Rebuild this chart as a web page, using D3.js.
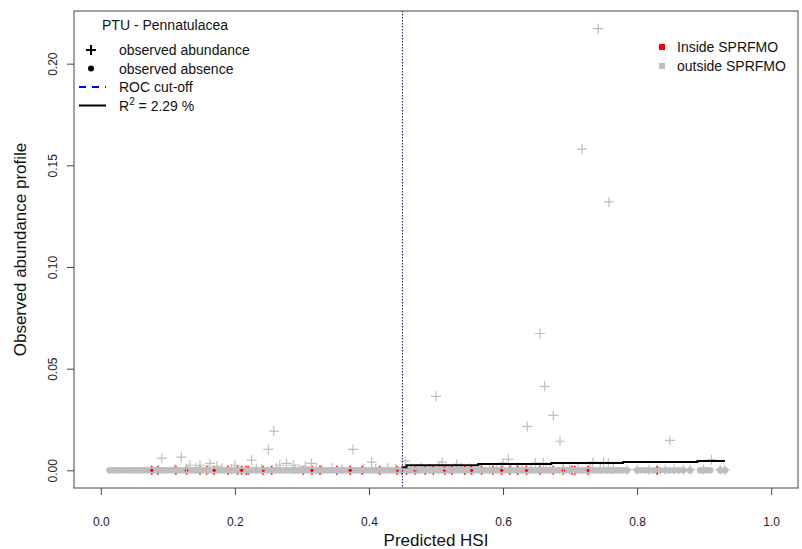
<!DOCTYPE html>
<html><head><meta charset="utf-8">
<script src="https://cdn.jsdelivr.net/npm/d3@7"></script>
<style>body{margin:0;background:#fff;}svg{display:block;font-family:"Liberation Sans",Arial,sans-serif;}</style>
</head><body>
<svg id="c" width="802" height="549"></svg>
<script>
// ---- data ----
const xTicks = [0.0, 0.2, 0.4, 0.6, 0.8, 1.0];
const xTickLabels = ["0.0", "0.2", "0.4", "0.6", "0.8", "1.0"];
const yTicks = [0.00, 0.05, 0.10, 0.15, 0.20];
const yTickLabels = ["0.00", "0.05", "0.10", "0.15", "0.20"];
const rocCutoff = 0.45;
// observed absences (outside SPRFMO), predicted HSI
const absenceX = [0.013,0.018,0.022,0.027,0.031,0.036,0.041,0.045,0.05,0.054,0.059,0.063,0.068,0.073,0.077,0.082,0.086,0.09,0.095,0.099,0.104,0.108,0.113,0.117,0.122,0.126,0.131,0.135,0.14,0.144,0.149,0.153,0.158,0.162,0.167,0.171,0.176,0.18,0.185,0.189,0.194,0.198,0.203,0.207,0.212,0.216,0.221,0.225,0.23,0.234,0.239,0.243,0.248,0.252,0.257,0.261,0.266,0.27,0.275,0.279,0.284,0.288,0.293,0.297,0.302,0.306,0.311,0.315,0.32,0.324,0.329,0.333,0.338,0.342,0.347,0.351,0.356,0.36,0.365,0.369,0.374,0.378,0.383,0.387,0.392,0.396,0.401,0.405,0.41,0.414,0.419,0.423,0.428,0.432,0.437,0.441,0.446,0.45,0.455,0.459,0.464,0.468,0.473,0.477,0.482,0.486,0.491,0.495,0.5,0.504,0.509,0.513,0.518,0.522,0.527,0.531,0.536,0.54,0.545,0.549,0.554,0.558,0.563,0.567,0.572,0.576,0.581,0.585,0.59,0.594,0.599,0.603,0.608,0.612,0.617,0.621,0.626,0.63,0.635,0.639,0.644,0.648,0.653,0.657,0.662,0.666,0.671,0.675,0.68,0.684,0.689,0.693,0.698,0.702,0.707,0.711,0.716,0.72,0.725,0.729,0.734,0.738,0.743,0.747,0.752,0.756,0.761,0.765,0.77,0.774,0.779,0.785,0.8,0.806,0.812,0.818,0.825,0.834,0.842,0.848,0.855,0.862,0.869,0.879,0.894,0.899,0.904,0.909,0.924,0.931];
// observed abundances (outside SPRFMO)
const abundX = [0.742,0.718,0.758,0.655,0.662,0.5,0.675,0.636,0.685,0.849,0.258,0.25,0.376,0.091,0.12,0.225,0.404,0.163,0.454,0.509,0.531,0.608,0.6,0.648,0.66,0.734,0.911,0.75,0.757,0.133,0.148,0.173,0.2,0.277,0.287,0.314,0.267,0.305,
  0.11,0.16,0.24,0.29,0.33,0.36,0.44,0.47,0.52,0.58,0.62,0.67,0.7,0.785,0.8,0.818,0.869,0.879,0.924,0.931,
  0.128,0.142,0.181,0.195,0.232,0.262,0.296,0.322,0.345,0.392,0.41,0.428,0.462,0.478,0.49,0.505,0.515,0.538,0.55,0.566,0.59,0.612,0.628,0.642,0.664,0.69,0.712,0.73,0.745,0.765,0.842,0.855,0.899];
const abundY = [0.2172,0.158,0.132,0.0673,0.0413,0.0364,0.027,0.0216,0.0143,0.0147,0.0193,0.0103,0.0103,0.006,0.0065,0.005,0.004,0.0034,0.0045,0.004,0.003,0.0054,0.0036,0.0036,0.0036,0.004,0.0052,0.0039,0.0034,0.0025,0.0025,0.002,0.0025,0.0034,0.0025,0.0034,0.0025,0.002,
  0.0006,0.0004,0.0006,0.0005,0.0004,0.0005,0.0006,0.0004,0.0005,0.0004,0.0006,0.0005,0.0004,0.0003,0.0003,0.0003,0.0003,0.0003,0.0003,0.0003,
  0.0008,0.0012,0.001,0.0006,0.0009,0.0011,0.0007,0.0009,0.0012,0.0008,0.0006,0.001,0.0009,0.0012,0.0007,0.0011,0.0009,0.0013,0.001,0.0008,0.0012,0.0009,0.0011,0.0007,0.001,0.0008,0.0006,0.0009,0.0007,0.0005,0.0004,0.0005,0.0004];
// stations inside SPRFMO
const insideX = [0.076,0.085,0.112,0.128,0.148,0.158,0.169,0.19,0.204,0.21,0.217,0.22,0.242,0.255,0.302,0.315,0.327,0.352,0.372,0.39,0.416,0.442,0.449,0.456,0.469,0.484,0.496,0.513,0.524,0.543,0.553,0.568,0.585,0.598,0.61,0.622,0.635,0.655,0.675,0.69,0.703,0.707,0.727,0.83];
const insideY = [0,0,0,0,0,0,0,0,0,0,0,0,0,0,0,0,0,0,0,0,0,0,0,0,0,0,0,0,0,0,0,0,0,0,0,0,0,0,0,0,0,0,0,0];
// fitted step line
const stepX = [0.45,0.456,0.563,0.672,0.779,0.89,0.931];
const stepY = [0.0015,0.0025,0.0031,0.0036,0.0041,0.0046,0.0046];

// ---- layout ----
const svg = d3.select("#c");
const L = 74, R = 798, T = 11, B = 488;
const x = d3.scaleLinear().domain([-0.04, 1.04]).range([L, R]);
const y = d3.scaleLinear().domain([-0.00869, 0.22589]).range([B, T]);
const axisCol = "#444";

// x axis
const xa = svg.append("g").attr("transform", `translate(0,${B})`)
  .call(d3.axisBottom(x).tickValues(xTicks).tickFormat((d,i)=>xTickLabels[i]).tickSize(7).tickPadding(0));
xa.select(".domain").remove();
xa.selectAll("line").attr("stroke", axisCol);
xa.selectAll("text").attr("font-size", 12).attr("fill", "#222").attr("dy", null).attr("y", 38);
// y axis
const ya = svg.append("g").attr("transform", `translate(${L},0)`)
  .call(d3.axisLeft(y).tickValues(yTicks).tickFormat((d,i)=>yTickLabels[i]).tickSize(7));
ya.select(".domain").remove();
ya.selectAll("line").attr("stroke", axisCol);
ya.selectAll("text").attr("font-size", 12).attr("fill", "#222")
  .attr("x", null).attr("dy", null).attr("text-anchor", "middle")
  .attr("transform", "translate(-17,0) rotate(-90)");

// box
svg.append("rect").attr("x", L).attr("y", T).attr("width", R - L).attr("height", B - T)
  .attr("fill", "none").attr("stroke", axisCol).attr("stroke-width", 1);

// titles
svg.append("text").attr("x", (L + R) / 2).attr("y", 546).attr("text-anchor", "middle")
  .attr("font-size", 17).attr("fill", "#111").text("Predicted HSI");
svg.append("text").attr("transform", `translate(26,${(T + B) / 2}) rotate(-90)`).attr("text-anchor", "middle")
  .attr("font-size", 17).attr("fill", "#111").text("Observed abundance profile");

const plot = svg.append("g");
const gray = "#bebebe", red = "#ff0000";
const plus = (s) => `M${-s},0H${s}M0,${-s}V${s}`;

// red inside stations
plot.selectAll(".inR").data(insideX).join("path")
  .attr("transform", (d,i) => `translate(${x(d)},${y(insideY[i])})`)
  .attr("d", plus(4.5)).attr("stroke", red).attr("stroke-width", 1.6).attr("fill", "none");
// absences
plot.selectAll(".abs").data(absenceX).join("circle")
  .attr("cx", d => x(d)).attr("cy", y(0)).attr("r", 3.3).attr("fill", gray);
// red dots on top for some
plot.selectAll(".inD").data(insideX.filter((d,i)=>i%3===0)).join("circle")
  .attr("cx", d => x(d)).attr("cy", y(0)).attr("r", 1.7).attr("fill", red);
// abundances
plot.selectAll(".ab").data(abundX).join("path")
  .attr("transform", (d,i) => `translate(${x(d)},${y(abundY[i])})`)
  .attr("d", plus(5)).attr("stroke", gray).attr("stroke-width", 1.2).attr("fill", "none");

// ROC cut-off
svg.append("line").attr("x1", x(rocCutoff)).attr("x2", x(rocCutoff)).attr("y1", T).attr("y2", B)
  .attr("stroke", "#1e1e6e").attr("stroke-width", 1).attr("stroke-dasharray", "1.5,1.5");

// step line
const stepData = stepX.map((d,i)=>[d, stepY[i]]);
svg.append("path").datum(stepData)
  .attr("d", d3.line().x(d=>x(d[0])).y(d=>y(d[1])).curve(d3.curveStepAfter))
  .attr("fill", "none").attr("stroke", "#000").attr("stroke-width", 2);

// legend left
const lg = svg.append("g").attr("font-size", 14).attr("fill", "#111");
lg.append("text").attr("x", 102).attr("y", 30).text("PTU - Pennatulacea");
const rows = [55, 73.5, 92, 110.5];
lg.append("path").attr("d", `M86,${rows[0]-5}h10M91,${rows[0]-10}v10`).attr("stroke", "#000").attr("stroke-width", 2);
lg.append("circle").attr("cx", 91).attr("cy", rows[1]-5).attr("r", 3).attr("fill", "#000");
lg.append("line").attr("x1", 79).attr("x2", 106).attr("y1", rows[2]-5).attr("y2", rows[2]-5)
  .attr("stroke", "#0000ff").attr("stroke-width", 2).attr("stroke-dasharray", "7,6");
lg.append("line").attr("x1", 79).attr("x2", 106).attr("y1", rows[3]-5).attr("y2", rows[3]-5)
  .attr("stroke", "#000").attr("stroke-width", 2);
lg.append("text").attr("x", 119).attr("y", rows[0]).text("observed abundance");
lg.append("text").attr("x", 119).attr("y", rows[1]).text("observed absence");
lg.append("text").attr("x", 119).attr("y", rows[2]).text("ROC cut-off");
const r2 = lg.append("text").attr("x", 119).attr("y", rows[3]);
r2.append("tspan").text("R");
r2.append("tspan").attr("font-size", 10).attr("dy", -6).text("2");
r2.append("tspan").attr("dy", 6).text(" = 2.29 %");

// legend right
const rg = svg.append("g").attr("font-size", 14).attr("fill", "#111");
rg.append("rect").attr("x", 659).attr("y", 44).attr("width", 6).attr("height", 6).attr("fill", red);
rg.append("rect").attr("x", 659).attr("y", 63).attr("width", 6).attr("height", 6).attr("fill", gray);
rg.append("text").attr("x", 677).attr("y", 52).text("Inside SPRFMO");
rg.append("text").attr("x", 677).attr("y", 71).text("outside SPRFMO");
</script>
</body></html>
